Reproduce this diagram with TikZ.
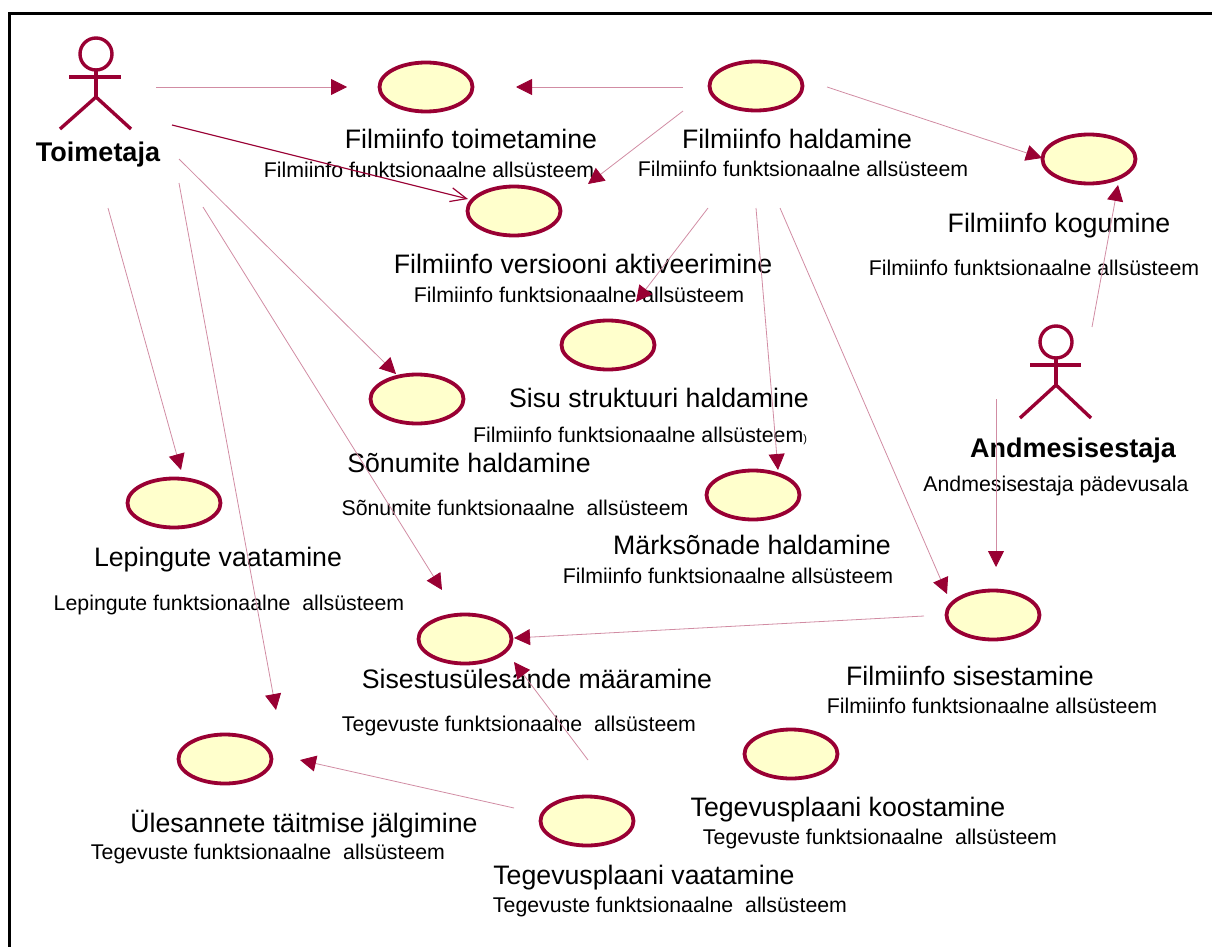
\documentclass[tikz,border=0pt]{standalone}
\usepackage{fontspec}
\setmainfont{Liberation Sans}
\usetikzlibrary{arrows,arrows.meta,shapes.geometric,positioning}
\definecolor{umlred}{HTML}{990033}
\definecolor{ucfill}{HTML}{FFFFCC}
\tikzset{
  usecase/.style={draw=umlred,fill=ucfill,ellipse,line width=3.8pt,minimum width=93pt,minimum height=49pt,inner sep=0pt},
  title/.style={font=\fontsize{26.7}{26.7}\selectfont,inner sep=0pt,text height=20pt,text depth=1pt},
  sub/.style={font=\fontsize{21.3}{21.3}\selectfont,inner sep=0pt,text height=16pt,text depth=0.6pt},
  actorname/.style={font=\fontsize{27}{27}\selectfont\bfseries,inner sep=0pt,text height=20pt,text depth=1pt},
  stick/.style={draw=umlred,line width=3.4pt},
  assoc/.style={draw=umlred!45,line width=0.8pt,-{Triangle[length=16pt,width=16pt,color=umlred]}},
  assocopen/.style={draw=umlred,line width=1.2pt,-{Straight Barb[length=16pt,width=14pt]}},
}
\begin{document}
\begin{tikzpicture}[x=1pt,y=-1pt]
\useasboundingbox (0,0) rectangle (1212,947);
\draw [line width=3pt] (9.5,13.5) rectangle (1230,965);

% actors
\draw [stick] (96,54) circle (16);
\draw [stick] (96,70) -- (96,97);
\draw [stick] (69,77) -- (121,77);
\draw [stick] (60,129) -- (96,97) -- (131,129);
\draw [stick] (1056,342) circle (16);
\draw [stick] (1056,358) -- (1056,385);
\draw [stick] (1030,365) -- (1081,365);
\draw [stick] (1020,418) -- (1056,385) -- (1091,418);

% use cases
\node (toimetamine) [usecase] at (426,87) {};
\node (haldamine) [usecase] at (756,86) {};
\node (kogumine) [usecase] at (1089,159) {};
\node (aktiveerimine) [usecase] at (514,211) {};
\node (struktuur) [usecase] at (608,345) {};
\node (sonumid) [usecase] at (417,399) {};
\node (marksonad) [usecase] at (753,495) {};
\node (lepingud) [usecase] at (174,503) {};
\node (maaramine) [usecase] at (465,639) {};
\node (sisestamine) [usecase] at (993,615) {};
\node (jalgimine) [usecase] at (225,759) {};
\node (koostamine) [usecase] at (791,754) {};
\node (vaatamine) [usecase] at (587,821) {};

% texts
\node (toimetajaname) [actorname] at (98,152) {Toimetaja};
\node (sisestajaname) [actorname] at (1073,448) {Andmesisestaja};
\node (sisestajasub) [sub] at (1056,484) {Andmesisestaja pädevusala};
\node (toimetaminetitle) [title] at (471,139) {Filmiinfo toimetamine};
\node (toimetaminesub) [sub] at (429,170) {Filmiinfo funktsionaalne allsüsteem};
\node (haldaminetitle) [title] at (797,139) {Filmiinfo haldamine};
\node (haldaminesub) [sub] at (803,169) {Filmiinfo funktsionaalne allsüsteem};
\node (kogumminetitle) [title] at (1059,223) {Filmiinfo kogumine};
\node (kogumminesub) [sub] at (1034,268) {Filmiinfo funktsionaalne allsüsteem};
\node (aktiveerimtitle) [title] at (583,264) {Filmiinfo versiooni aktiveerimine};
\node (aktiveerimsub) [sub] at (579,295) {Filmiinfo funktsionaalne allsüsteem};
\node (struktuurtitle) [title] at (659,398) {Sisu struktuuri haldamine};
\node (struktuursub) [sub] at (640,435) {Filmiinfo funktsionaalne allsüsteem\fontsize{11}{11}\selectfont)};
\node (sonumidtitle) [title] at (469,463) {Sõnumite haldamine};
\node (sonumidsub) [sub] at (515,508) {Sõnumite funktsionaalne\ \ allsüsteem};
\node (marksonadtitle) [title] at (752,545) {Märksõnade haldamine};
\node (marksonadsub) [sub] at (728,576) {Filmiinfo funktsionaalne allsüsteem};
\node (lepingudtitle) [title] at (218,557) {Lepingute vaatamine};
\node (lepingudsub) [sub] at (229,603) {Lepingute funktsionaalne\ \ allsüsteem};
\node (maaraminetitle) [title] at (537,679) {Sisestusülesande määramine};
\node (maaraminesub) [sub] at (519,724) {Tegevuste funktsionaalne\ \ allsüsteem};
\node (sisestaminetitle) [title] at (970,676) {Filmiinfo sisestamine};
\node (sisestaminesub) [sub] at (992,706) {Filmiinfo funktsionaalne allsüsteem};
\node (jalgiminetitle) [title] at (304,823) {Ülesannete täitmise jälgimine};
\node (jalgiminesub) [sub] at (268,852) {Tegevuste funktsionaalne\ \ allsüsteem};
\node (koostaminetitle) [title] at (848,807) {Tegevusplaani koostamine};
\node (koostaminesub) [sub] at (880,837) {Tegevuste funktsionaalne\ \ allsüsteem};
\node (vaataminetitle) [title] at (644,875) {Tegevusplaani vaatamine};
\node (vaataminesub) [sub] at (670,905) {Tegevuste funktsionaalne\ \ allsüsteem};

% free ends of the connectors
\coordinate (toimetajaA) at (156,87);
\coordinate (toimetajaB) at (172,125);
\coordinate (toimetajaC) at (179,159);
\coordinate (toimetajaD) at (108,208);
\coordinate (toimetajaE) at (179,183);
\coordinate (toimetajaF) at (203,207);
\coordinate (haldamineA) at (683,87);
\coordinate (haldamineB) at (683,111);
\coordinate (haldamineC) at (827,87);
\coordinate (haldamineD) at (708,208);
\coordinate (haldamineE) at (756,208);
\coordinate (haldamineF) at (780,208);
\coordinate (sisestajaA) at (1092,327);
\coordinate (sisestajaB) at (996,399);
\coordinate (sisestamineA) at (924,616);
\coordinate (vaatamineA) at (588,760);
\coordinate (vaatamineB) at (514,808);
\coordinate (toToimetamineL) at (347,87);
\coordinate (toToimetamineR) at (516,87);
\coordinate (toAktiveerimineR) at (588,184);
\coordinate (toAktiveerimineL) at (468,199);
\coordinate (toKogumineL) at (1042,158);
\coordinate (toKogumineB) at (1118,185);
\coordinate (toStruktuur) at (636,302);
\coordinate (toMarksonad) at (778,470);
\coordinate (toSisestamineL) at (947,594);
\coordinate (toSisestamineT) at (996,567);
\coordinate (toSonumid) at (396,374);
\coordinate (toLepingud) at (181,470);
\coordinate (toJalgimineT) at (276,710);
\coordinate (toJalgimineR) at (300,760);
\coordinate (toMaaramineT) at (442,590);
\coordinate (toMaaramineR) at (514,638);
\coordinate (toMaaramineB) at (514,662);

% connectors
\draw [assoc] (toimetajaA) -- (toToimetamineL);
\draw [assoc] (haldamineA) -- (toToimetamineR);
\draw [assoc] (haldamineB) -- (toAktiveerimineR);
\draw [assoc] (haldamineC) -- (toKogumineL);
\draw [assoc] (haldamineD) -- (toStruktuur);
\draw [assoc] (haldamineE) -- (toMarksonad);
\draw [assoc] (haldamineF) -- (toSisestamineL);
\draw [assoc] (sisestajaA) -- (toKogumineB);
\draw [assoc] (sisestajaB) -- (toSisestamineT);
\draw [assocopen] (toimetajaB) -- (toAktiveerimineL);
\draw [assoc] (toimetajaC) -- (toSonumid);
\draw [assoc] (toimetajaD) -- (toLepingud);
\draw [assoc] (toimetajaE) -- (toJalgimineT);
\draw [assoc] (toimetajaF) -- (toMaaramineT);
\draw [assoc] (sisestamineA) -- (toMaaramineR);
\draw [assoc] (vaatamineA) -- (toMaaramineB);
\draw [assoc] (vaatamineB) -- (toJalgimineR);
\end{tikzpicture}
\end{document}
